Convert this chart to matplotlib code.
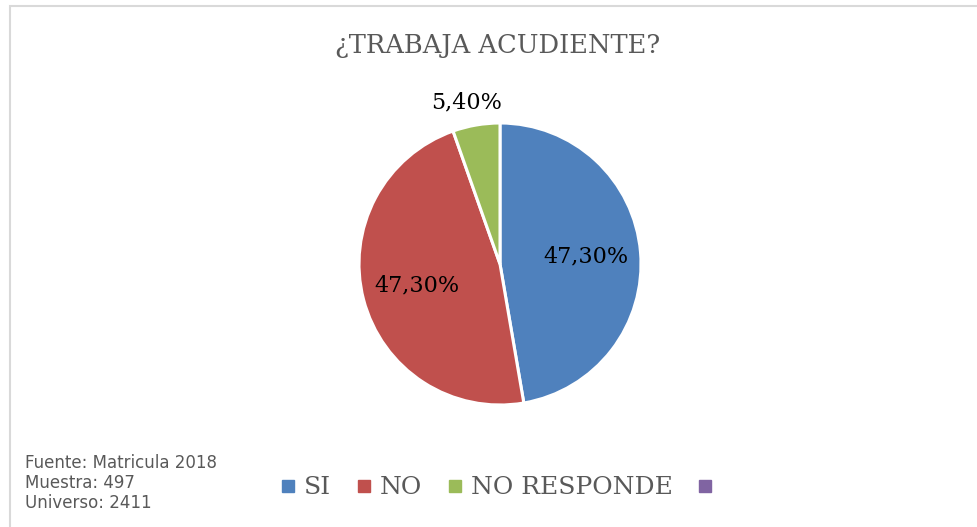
import numpy as np
import matplotlib
matplotlib.use("Agg")
import matplotlib.pyplot as plt
from matplotlib.lines import Line2D
from matplotlib.patches import Rectangle

# chart data
categories = ["SI", "NO", "NO RESPONDE"]
values = [47.3, 47.3, 5.4]
colors = ["#4F81BD", "#C0504D", "#9BBB59"]
extra_color = "#8064A2"
title = "¿TRABAJA ACUDIENTE?"
source_lines = ["Fuente: Matricula 2018", "Muestra: 497", "Universo: 2411"]

serif = ["DejaVu Serif"]
gray = "#595959"

fig = plt.figure(figsize=(9.78, 5.27), dpi=100)

# chart border (partially out of frame)
fig.patches.append(Rectangle((10 / 978, -0.1), 1.1, (527 - 6) / 527 + 0.1,
                             transform=fig.transFigure, fill=False,
                             edgecolor="#D9D9D9", linewidth=1.5))

ax = fig.add_axes([288.5 / 978, 51.5 / 527, 423 / 978, 423 / 527])


def fmt(p):
    return f"{p:.2f}".replace(".", ",") + "%"


wedges, texts, autotexts = ax.pie(
    values, colors=colors, startangle=90, counterclock=False,
    autopct=fmt, pctdistance=0.61,
    wedgeprops=dict(edgecolor="white", linewidth=2.2),
    textprops=dict(fontsize=16, family=serif, color="black"))
ax.set_xlim(-1.5, 1.5)
ax.set_ylim(-1.5, 1.5)
ax.set_aspect("equal")
ax.axis("off")

# small slice label goes outside
w = wedges[2]
mid = np.deg2rad((w.theta1 + w.theta2) / 2)
autotexts[2].set_position((1.16 * np.cos(mid) - 0.04, 1.16 * np.sin(mid)))

fig.text(498 / 978, 1 - 46 / 527, title, ha="center", va="center",
         fontsize=18.5, family=serif, color=gray)

# legend
handles = [Line2D([], [], marker="s", linestyle="none", markersize=8.5,
                  markerfacecolor=c, markeredgecolor=c) for c in colors + [extra_color]]
labels = categories + [""]
fig.legend(handles, labels, loc="center", bbox_to_anchor=(501 / 978, 1 - 488 / 527),
           ncol=4, frameon=False, handletextpad=0.35, columnspacing=1.0,
           handlelength=0.6, prop=dict(family=serif, size=18), labelcolor=gray)

for i, line in enumerate(source_lines):
    fig.text(25 / 978, 1 - (463 + i * 20) / 527, line, ha="left", va="center",
             fontsize=12, family="DejaVu Sans", color=gray)

fig.savefig("out.png", dpi=100, facecolor="white")
